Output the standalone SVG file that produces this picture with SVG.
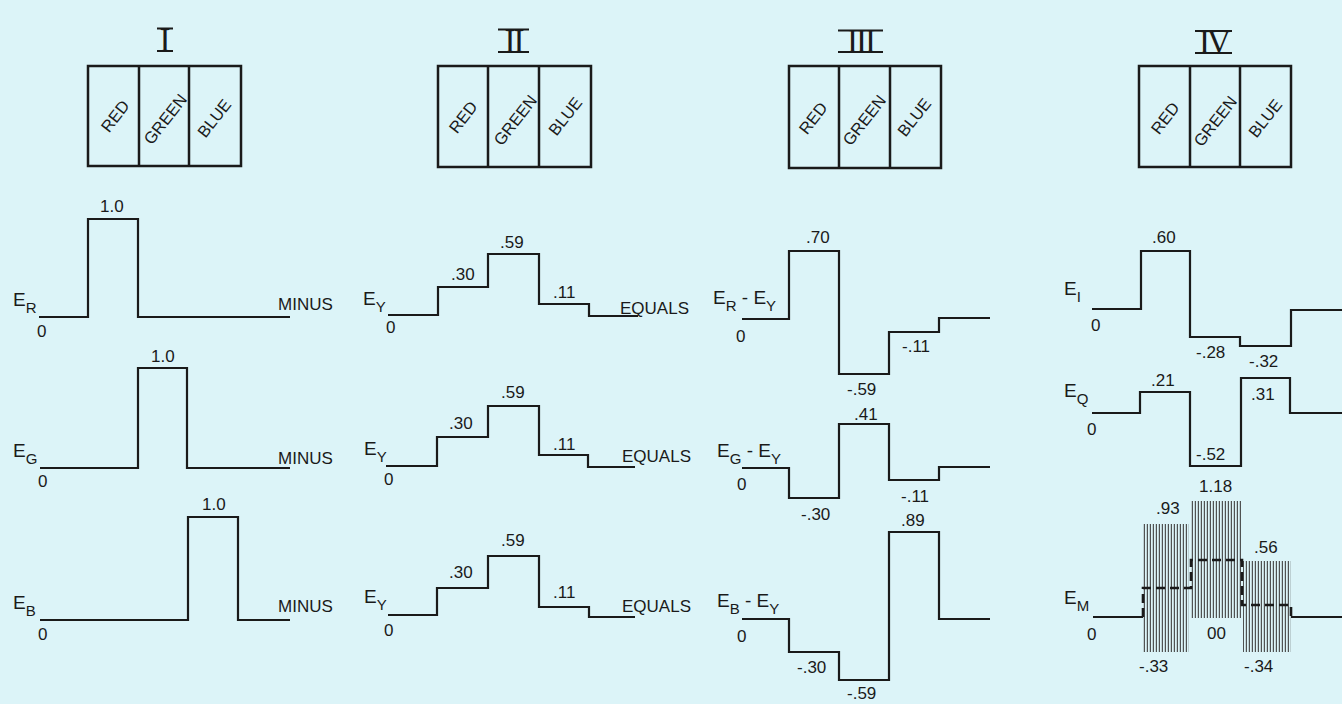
<svg xmlns="http://www.w3.org/2000/svg" width="1342" height="704" viewBox="0 0 1342 704">
<defs>
<pattern id="hatch" x="0" y="0" width="3" height="20" patternUnits="userSpaceOnUse">
<rect x="0.8" y="0" width="1.1" height="20" fill="#404040"/>
</pattern>
<style>
.bg{fill:#dcf4f8}
.box{fill:none;stroke:#1a1a1a;stroke-width:2.5}
.div{stroke:#1a1a1a;stroke-width:2.5}
.cell{font-family:"Liberation Sans",Arial,sans-serif;font-size:16.5px;fill:#1a1a1a;text-anchor:middle;dominant-baseline:central}
.num{font-family:"Liberation Serif","Times New Roman",serif;font-size:33px;fill:#1a1a1a;text-anchor:middle}
.bar{stroke:#1a1a1a;stroke-width:2}
.w{fill:none;stroke:#1a1a1a;stroke-width:2.2;stroke-linejoin:miter}
.dash{fill:none;stroke:#1a1a1a;stroke-width:2.6;stroke-dasharray:9 5}
.t{font-family:"Liberation Sans",Arial,sans-serif;font-size:17px;fill:#1a1a1a}
.e{font-family:"Liberation Sans",Arial,sans-serif;font-size:19px;fill:#1a1a1a}
.s{font-size:15px}
</style>
</defs>
<rect class="bg" x="0" y="0" width="1342" height="704"/>

<!-- Panel headers -->
<g id="header-I">
<text class="num" x="165" y="51">I</text>
<line class="bar" x1="157" y1="28.5" x2="173" y2="28.5"/>
<line class="bar" x1="157" y1="51" x2="173" y2="51"/>
<rect class="box" x="88" y="66" width="153" height="100"/>
<line class="div" x1="139" y1="66" x2="139" y2="166"/>
<line class="div" x1="189" y1="66" x2="189" y2="166"/>
<text class="cell" transform="translate(115,116) rotate(-52)">RED</text>
<text class="cell" transform="translate(165,119) rotate(-52)">GREEN</text>
<text class="cell" transform="translate(214,118) rotate(-52)">BLUE</text>
</g>
<g id="header-II">
<text class="num" x="513.5" y="52" letter-spacing="-2">II</text>
<line class="bar" x1="498" y1="29.5" x2="529" y2="29.5"/>
<line class="bar" x1="498" y1="52" x2="529" y2="52"/>
<rect class="box" x="438" y="66" width="153" height="101"/>
<line class="div" x1="488" y1="66" x2="488" y2="167"/>
<line class="div" x1="539" y1="66" x2="539" y2="167"/>
<text class="cell" transform="translate(463,117) rotate(-52)">RED</text>
<text class="cell" transform="translate(515,120) rotate(-52)">GREEN</text>
<text class="cell" transform="translate(565,116) rotate(-52)">BLUE</text>
</g>
<g id="header-III">
<text class="num" x="860.5" y="52" letter-spacing="-2">III</text>
<line class="bar" x1="838" y1="30.5" x2="883" y2="30.5"/>
<line class="bar" x1="838" y1="52" x2="883" y2="52"/>
<rect class="box" x="789" y="66" width="152" height="102"/>
<line class="div" x1="839" y1="66" x2="839" y2="168"/>
<line class="div" x1="890" y1="66" x2="890" y2="168"/>
<text class="cell" transform="translate(813,118) rotate(-52)">RED</text>
<text class="cell" transform="translate(864,120) rotate(-52)">GREEN</text>
<text class="cell" transform="translate(914,117) rotate(-52)">BLUE</text>
</g>
<g id="header-IV">
<text class="num" x="1213.5" y="53" letter-spacing="-3">IV</text>
<line class="bar" x1="1195" y1="31" x2="1232" y2="31"/>
<line class="bar" x1="1195" y1="53" x2="1232" y2="53"/>
<rect class="box" x="1139" y="66" width="152" height="101"/>
<line class="div" x1="1190" y1="66" x2="1190" y2="167"/>
<line class="div" x1="1240" y1="66" x2="1240" y2="167"/>
<text class="cell" transform="translate(1165,118) rotate(-52)">RED</text>
<text class="cell" transform="translate(1215,121) rotate(-52)">GREEN</text>
<text class="cell" transform="translate(1265,118) rotate(-52)">BLUE</text>
</g>

<!-- Panel I -->
<g id="ER">
<path class="w" d="M39,317 H88 V219 H138 V317 H290"/>
<text class="e" x="13" y="306">E<tspan class="s" dy="7">R</tspan></text>
<text class="t" x="37" y="337">0</text>
<text class="t" x="100" y="212">1.0</text>
<text class="t" x="278" y="310">MINUS</text>
</g>
<g id="EG">
<path class="w" d="M40,468 H138 V368 H187 V468 H290"/>
<text class="e" x="13" y="457">E<tspan class="s" dy="7">G</tspan></text>
<text class="t" x="38" y="487">0</text>
<text class="t" x="151" y="362">1.0</text>
<text class="t" x="278" y="464">MINUS</text>
</g>
<g id="EB">
<path class="w" d="M40,620 H188 V517 H238 V620 H290"/>
<text class="e" x="13" y="609">E<tspan class="s" dy="7">B</tspan></text>
<text class="t" x="38" y="640">0</text>
<text class="t" x="202" y="510">1.0</text>
<text class="t" x="278" y="612">MINUS</text>
</g>

<!-- Panel II -->
<g id="EY1">
<path class="w" d="M388,315 H438 V287 H488 V254 H539 V304 H589 V316 H638"/>
<text class="e" x="363" y="305">E<tspan class="s" dy="7">Y</tspan></text>
<text class="t" x="386" y="333">0</text>
<text class="t" x="451" y="280">.30</text>
<text class="t" x="500" y="248">.59</text>
<text class="t" x="553" y="298">.11</text>
<text class="t" x="620" y="314">EQUALS</text>
</g>
<g id="EY2">
<path class="w" d="M386,466 H437 V437 H488 V406 H539 V455 H588 V467 H635"/>
<text class="e" x="364" y="455">E<tspan class="s" dy="7">Y</tspan></text>
<text class="t" x="384" y="485">0</text>
<text class="t" x="449" y="429">.30</text>
<text class="t" x="501" y="398">.59</text>
<text class="t" x="553" y="450">.11</text>
<text class="t" x="622" y="462">EQUALS</text>
</g>
<g id="EY3">
<path class="w" d="M388,615 H437 V588 H488 V556 H539 V607 H589 V617 H635"/>
<text class="e" x="364" y="603">E<tspan class="s" dy="7">Y</tspan></text>
<text class="t" x="384" y="636">0</text>
<text class="t" x="449" y="578">.30</text>
<text class="t" x="501" y="546">.59</text>
<text class="t" x="553" y="598">.11</text>
<text class="t" x="622" y="612">EQUALS</text>
</g>

<!-- Panel III -->
<g id="ERminusEY">
<path class="w" d="M742,319 H789 V251 H839 V374 H889 V332 H939 V318 H990"/>
<text class="e" x="713" y="304">E<tspan class="s" dy="7">R</tspan><tspan dy="-7"> - E</tspan><tspan class="s" dy="7">Y</tspan></text>
<text class="t" x="736" y="342">0</text>
<text class="t" x="806" y="243">.70</text>
<text class="t" x="847" y="395">-.59</text>
<text class="t" x="902" y="352">-.11</text>
</g>
<g id="EGminusEY">
<path class="w" d="M742,468 H789 V498 H839 V424 H889 V480 H939 V467 H990"/>
<text class="e" x="717" y="457">E<tspan class="s" dy="7">G</tspan><tspan dy="-7"> - E</tspan><tspan class="s" dy="7">Y</tspan></text>
<text class="t" x="737" y="490">0</text>
<text class="t" x="854" y="420">.41</text>
<text class="t" x="801" y="520">-.30</text>
<text class="t" x="901" y="502">-.11</text>
</g>
<g id="EBminusEY">
<path class="w" d="M742,619 H789 V652 H839 V680 H889 V532 H939 V619 H990"/>
<text class="e" x="717" y="607">E<tspan class="s" dy="7">B</tspan><tspan dy="-7"> - E</tspan><tspan class="s" dy="7">Y</tspan></text>
<text class="t" x="737" y="642">0</text>
<text class="t" x="901" y="526">.89</text>
<text class="t" x="797" y="673">-.30</text>
<text class="t" x="847" y="699">-.59</text>
</g>

<!-- Panel IV -->
<g id="EI">
<path class="w" d="M1092,309 H1141 V251 H1190 V337 H1240 V346 H1291 V310 H1342"/>
<text class="e" x="1064" y="295">E<tspan class="s" dy="7">I</tspan></text>
<text class="t" x="1091" y="331">0</text>
<text class="t" x="1152" y="243">.60</text>
<text class="t" x="1196" y="358">-.28</text>
<text class="t" x="1249" y="367">-.32</text>
</g>
<g id="EQ">
<path class="w" d="M1092,413 H1140 V392 H1190 V466 H1241 V378 H1290 V413 H1342"/>
<text class="e" x="1064" y="397">E<tspan class="s" dy="7">Q</tspan></text>
<text class="t" x="1087" y="435">0</text>
<text class="t" x="1151" y="386">.21</text>
<text class="t" x="1196" y="460">-.52</text>
<text class="t" x="1251" y="400">.31</text>
</g>
<g id="EM">
<rect x="1143" y="524" width="46" height="128" fill="url(#hatch)"/>
<rect x="1191" y="501" width="51" height="117" fill="url(#hatch)"/>
<rect x="1243" y="561" width="48" height="91" fill="url(#hatch)"/>
<path class="w" d="M1093,617 H1143"/>
<path class="w" d="M1291,617 H1342"/>
<path class="dash" d="M1143,617 V588 H1191 V560 H1242 V605 H1291 V617"/>
<text class="e" x="1064" y="604">E<tspan class="s" dy="7">M</tspan></text>
<text class="t" x="1087" y="640">0</text>
<text class="t" x="1156" y="514">.93</text>
<text class="t" x="1199" y="492">1.18</text>
<text class="t" x="1254" y="553">.56</text>
<text class="t" x="1139" y="672">-.33</text>
<text class="t" x="1207" y="639">00</text>
<text class="t" x="1244" y="672">-.34</text>
</g>
</svg>
